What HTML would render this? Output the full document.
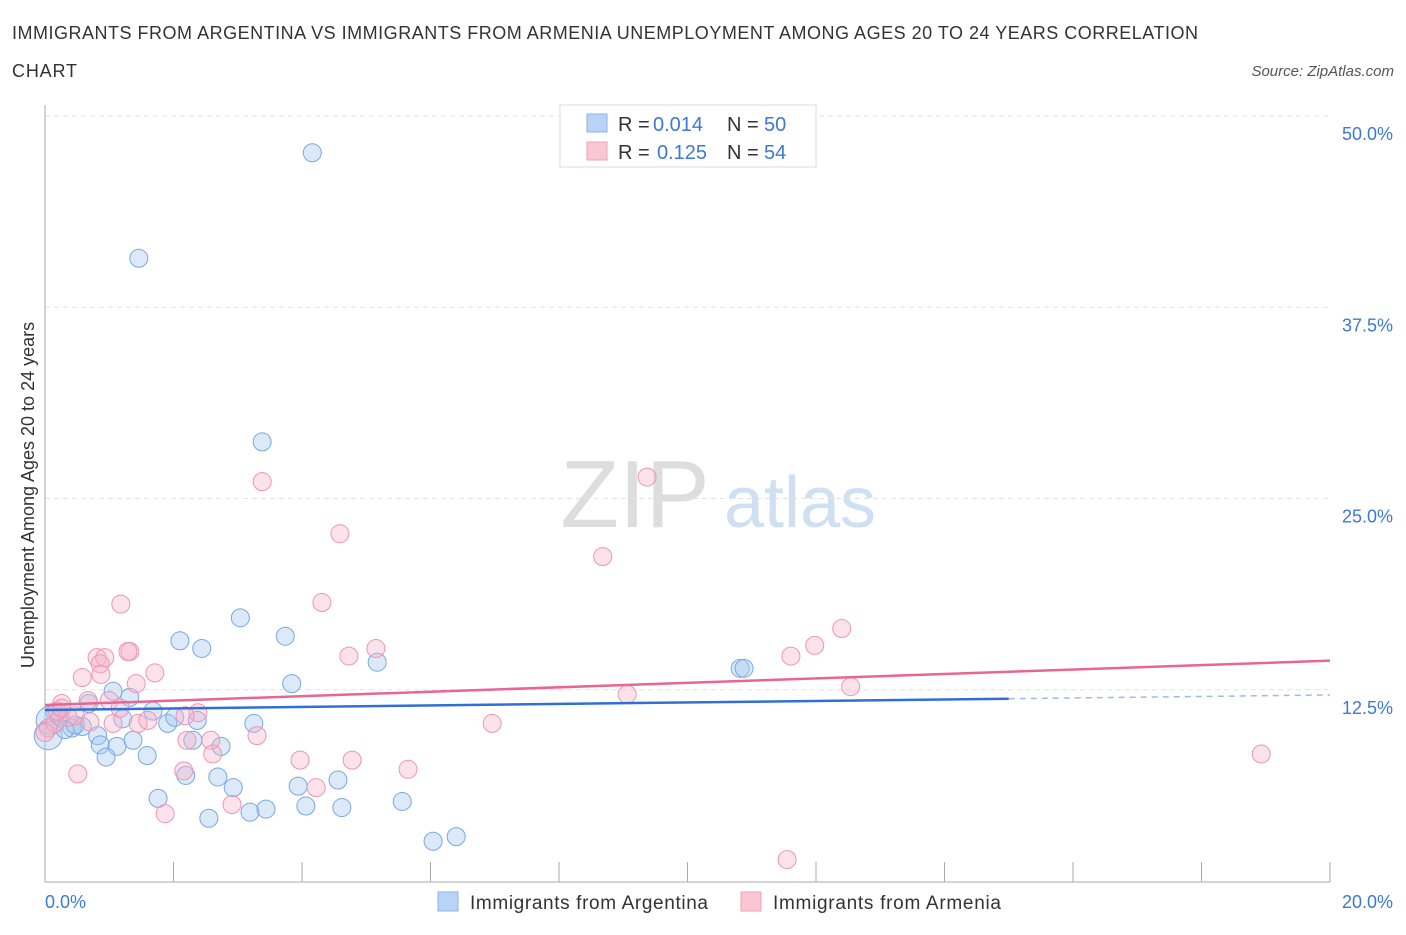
<!DOCTYPE html>
<html><head><meta charset="utf-8"><style>
body{margin:0;background:#fff;font-family:"Liberation Sans",sans-serif}
svg text{font-family:"Liberation Sans",sans-serif}
</style></head><body>
<svg id="chart" width="1406" height="930" xmlns="http://www.w3.org/2000/svg">
<text x="12" y="39" font-size="18" fill="#333" textLength="1186">IMMIGRANTS FROM ARGENTINA VS IMMIGRANTS FROM ARMENIA UNEMPLOYMENT AMONG AGES 20 TO 24 YEARS CORRELATION</text>
<text x="12" y="77" font-size="18" fill="#333" textLength="65">CHART</text>
<text x="1394" y="76" font-size="15" fill="#555" font-style="italic" text-anchor="end">Source: ZipAtlas.com</text>
<text x="635" y="527" font-size="96" fill="#ddd" font-family="Liberation Serif" text-anchor="middle">ZIP</text>
<text x="800" y="527" font-size="72" fill="#cfe0f3" text-anchor="middle">atlas</text>
<g id="grid"></g>
<g id="axes"></g>
<g id="pts"></g>
<g id="trends"></g>
<text transform="translate(34,495) rotate(-90)" font-size="18" fill="#333" text-anchor="middle">Unemployment Among Ages 20 to 24 years</text>
<g>
<rect x="560" y="105" width="256" height="62" fill="#fff" stroke="#ddd"/>
<rect x="587" y="114" width="20" height="18" fill="#b8d3f5" stroke="#8ab4ea"/>
<text x="618" y="131" font-size="20" fill="#333">R = <tspan x="653" fill="#3d78d8">0.014</tspan><tspan x="727">N = </tspan><tspan x="764" fill="#3d78d8">50</tspan></text>
<rect x="587" y="142" width="20" height="18" fill="#f9c6d5" stroke="#f0a0b8"/>
<text x="618" y="159" font-size="20" fill="#333">R = <tspan x="657" fill="#3d78d8">0.125</tspan><tspan x="727">N = </tspan><tspan x="764" fill="#3d78d8">54</tspan></text>
</g>
<g>
<rect x="438" y="892" width="20" height="19" fill="#b8d3f5" stroke="#8ab4ea"/>
<text x="470" y="909" font-size="19" fill="#333" textLength="238">Immigrants from Argentina</text>
<rect x="741" y="892" width="20" height="19" fill="#f9c6d5" stroke="#f0a0b8"/>
<text x="773" y="909" font-size="19" fill="#333" textLength="228">Immigrants from Armenia</text>
</g>
</svg>
<script>
const yTicks=[12.5,25,37.5,50];
const yTickLabels=["12.5%","25.0%","37.5%","50.0%"];
const xTicks=[0,2,4,6,8,10,12,14,16,18,20];
const blueX=[4.16,1.46,3.38,3.04,2.10,2.44,3.74,5.17,3.84,10.82,10.88,1.06,1.32,1.68,0.68,0.16,0.08,0.23,0.42,0.58,0.82,1.21,1.91,2.02,2.37,3.25,2.30,2.74,1.37,0.86,1.12,0.95,1.59,0.05,2.69,2.19,2.93,1.76,3.94,4.56,2.55,3.19,3.44,4.06,4.62,5.56,6.04,6.40,0.31,0.47];
const blueY=[47.6,40.7,28.7,17.2,15.7,15.2,16.0,14.3,12.9,13.9,13.9,12.4,12.0,11.1,11.6,11.0,10.5,10.7,10.0,10.1,9.5,10.6,10.3,10.7,10.5,10.3,9.2,8.8,9.2,8.9,8.8,8.1,8.2,9.5,6.8,6.9,6.1,5.4,6.2,6.6,4.1,4.5,4.7,4.9,4.8,5.2,2.6,2.9,9.9,10.2];
const pinkX=[9.37,3.38,4.59,8.68,1.18,4.31,12.40,11.98,5.15,11.61,1.32,1.29,0.81,0.93,0.86,4.73,1.71,0.58,0.87,1.42,9.06,12.54,0.67,0.26,1.00,2.38,2.18,1.45,1.06,6.96,3.30,2.21,2.58,2.61,0.51,2.16,3.97,4.78,5.65,4.22,2.91,1.87,18.93,11.55,0.05,0.16,0.36,0.0,1.17,0.19,0.26,0.47,1.60,0.70];
const pinkY=[26.4,26.1,22.7,21.2,18.1,18.2,16.5,15.4,15.2,14.7,15.0,15.0,14.6,14.6,14.2,14.7,13.6,13.3,13.5,12.9,12.2,12.7,11.8,11.6,11.8,11.0,10.8,10.3,10.3,10.3,9.5,9.2,9.2,8.3,7.0,7.2,7.9,7.9,7.3,6.1,5.0,4.4,8.3,1.4,10.0,10.3,10.7,9.7,11.3,11.1,11.3,10.8,10.5,10.4];
const blueTrend=[11.18,12.16];
const pinkTrend=[11.5,14.4];
const NS="http://www.w3.org/2000/svg";
const X=v=>45+v*64.25, Y=v=>881-v*15.3;
function mk(t,a,p){const e=document.createElementNS(NS,t);for(const k in a)e.setAttribute(k,a[k]);p.appendChild(e);return e;}
const grid=document.getElementById('grid'),axes=document.getElementById('axes'),pts=document.getElementById('pts'),tr=document.getElementById('trends');
yTicks.forEach((v,i)=>{
 const l=mk('line',{x1:45,x2:1330,y1:Y(v),y2:Y(v),stroke:'#e2e2e2','stroke-dasharray':'5,4'},grid);
 
 
 const t=mk('text',{x:1393,y:Y(v)+24,'font-size':18,fill:'#3d78d8','text-anchor':'end'},grid);
 t.textContent=yTickLabels[i];
 
 
});
const ya=mk('line',{x1:45,x2:45,y1:105,y2:882,stroke:'#aaa'},axes);


const xa=mk('line',{x1:45,x2:1330,y1:882,y2:882,stroke:'#aaa'},axes);


xTicks.forEach(v=>{
 const t=mk('line',{x1:X(v),x2:X(v),y1:862,y2:882,stroke:'#aaa'},axes);
 
 
});
const xl0=mk('text',{x:45,y:908,'font-size':18,fill:'#3d78d8'},axes);xl0.textContent=xTicks[0].toFixed(1)+'%';


const xl1=mk('text',{x:1393,y:908,'font-size':18,fill:'#3d78d8','text-anchor':'end'},axes);xl1.textContent=xTicks[xTicks.length-1].toFixed(1)+'%';


function drawPts(xs,ys,fill,stroke,name){xs.forEach((x,i)=>{
 const c=mk('circle',{cx:X(x),cy:Y(ys[i]),r:(x<0.1&&name==='argentina-point')?14:9,fill:fill,stroke:stroke,'stroke-width':1},pts);
 
 
});}
drawPts(blueX,blueY,'rgba(165,200,240,0.4)','#78a8e4','argentina-point');
drawPts(pinkX,pinkY,'rgba(247,180,200,0.38)','#ee95b0','armenia-point');
const bx=15,by=blueTrend[0]+(blueTrend[1]-blueTrend[0])*bx/20;
const b1=mk('line',{x1:X(0),y1:Y(blueTrend[0]),x2:X(bx),y2:Y(by),stroke:'#2f6fd6','stroke-width':2.5},tr);


const b2=mk('line',{x1:X(bx),y1:Y(by),x2:X(20),y2:Y(blueTrend[1]),stroke:'#9bbbe8','stroke-width':1.5,'stroke-dasharray':'6,5'},tr);


const p1=mk('line',{x1:X(0),y1:Y(pinkTrend[0]),x2:X(20),y2:Y(pinkTrend[1]),stroke:'#e8668f','stroke-width':2.5},tr);


</script>
</body></html>
